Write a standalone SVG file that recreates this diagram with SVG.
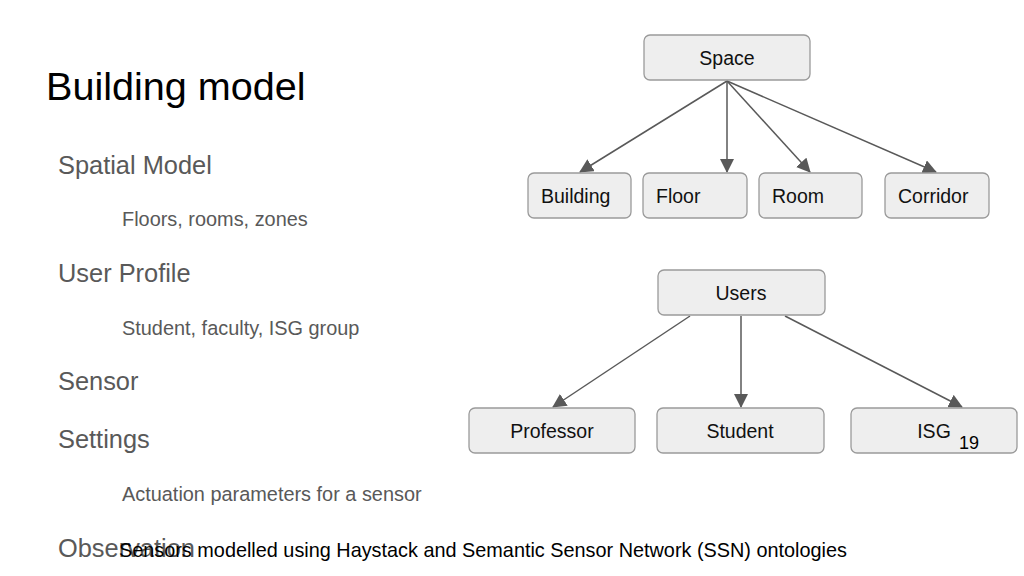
<svg xmlns="http://www.w3.org/2000/svg" width="1024" height="576" viewBox="0 0 1024 576">
<style>
.box{fill:#eeeeee;stroke:#9a9a9a;stroke-width:1.3}
.nt{font-family:"Liberation Sans",Arial,sans-serif;font-size:19.5px;fill:#111}
.l1{font-family:"Liberation Sans",Arial,sans-serif;font-size:25.4px;fill:#595959}
.l2{font-family:"Liberation Sans",Arial,sans-serif;font-size:19.9px;fill:#595959}
.edge{stroke:#595959;stroke-width:1.5;fill:none;marker-end:url(#ah)}
</style>
<defs>
<marker id="ah" viewBox="0 0 14 14" refX="13" refY="7" markerWidth="14" markerHeight="14" markerUnits="userSpaceOnUse" orient="auto">
<path d="M0,0 L14,7 L0,14 Z" fill="#595959"/>
</marker>
</defs>
<rect width="1024" height="576" fill="#ffffff"/>
<g id="slide-text">
<text x="46" y="100" font-family="Liberation Sans,Arial,sans-serif" font-size="39.6" fill="#000">Building model</text>
<text class="l1" x="58" y="174">Spatial Model</text>
<text class="l2" x="122" y="226">Floors, rooms, zones</text>
<text class="l1" x="58" y="282">User Profile</text>
<text class="l2" x="122" y="335">Student, faculty, ISG group</text>
<text class="l1" x="58" y="390">Sensor</text>
<text class="l1" x="58" y="448">Settings</text>
<text class="l2" x="122" y="501">Actuation parameters for a sensor</text>
<text class="l1" x="58" y="557">Observation</text>
<text x="119" y="557" font-family="Liberation Sans,Arial,sans-serif" font-size="19.85" fill="#000">Sensors modelled using Haystack and Semantic Sensor Network (SSN) ontologies</text>
</g>
<g id="connectors">
<line class="edge" x1="727" y1="81" x2="580" y2="172"/>
<line class="edge" x1="727" y1="81" x2="727" y2="172"/>
<line class="edge" x1="727" y1="81" x2="810" y2="172"/>
<line class="edge" x1="727" y1="81" x2="936" y2="172"/>
<line class="edge" x1="690" y1="316" x2="553" y2="407"/>
<line class="edge" x1="741" y1="316" x2="741" y2="407"/>
<line class="edge" x1="785" y1="316" x2="962" y2="407"/>
</g>
<g id="node-space"><rect class="box" x="644" y="35" width="166" height="45" rx="6"/><text class="nt" x="727" y="65" text-anchor="middle">Space</text></g>
<g id="node-building"><rect class="box" x="528" y="173" width="103" height="45" rx="6"/><text class="nt" x="541" y="203">Building</text></g>
<g id="node-floor"><rect class="box" x="643" y="173" width="104" height="45" rx="6"/><text class="nt" x="656" y="203">Floor</text></g>
<g id="node-room"><rect class="box" x="759" y="173" width="103" height="45" rx="6"/><text class="nt" x="772" y="203">Room</text></g>
<g id="node-corridor"><rect class="box" x="885" y="173" width="104" height="45" rx="6"/><text class="nt" x="898" y="203">Corridor</text></g>
<g id="node-users"><rect class="box" x="658" y="270" width="167" height="45" rx="6"/><text class="nt" x="741" y="300" text-anchor="middle">Users</text></g>
<g id="node-professor"><rect class="box" x="469" y="408" width="166" height="45" rx="6"/><text class="nt" x="552" y="438" text-anchor="middle">Professor</text></g>
<g id="node-student"><rect class="box" x="657" y="408" width="167" height="45" rx="6"/><text class="nt" x="740" y="438" text-anchor="middle">Student</text></g>
<g id="node-isg"><rect class="box" x="851" y="408" width="166" height="45" rx="6"/><text class="nt" x="934" y="438" text-anchor="middle">ISG</text></g>
<g id="page-number"><text x="959" y="449" font-family="Liberation Sans,Arial,sans-serif" font-size="18" fill="#000">19</text></g>
</svg>
